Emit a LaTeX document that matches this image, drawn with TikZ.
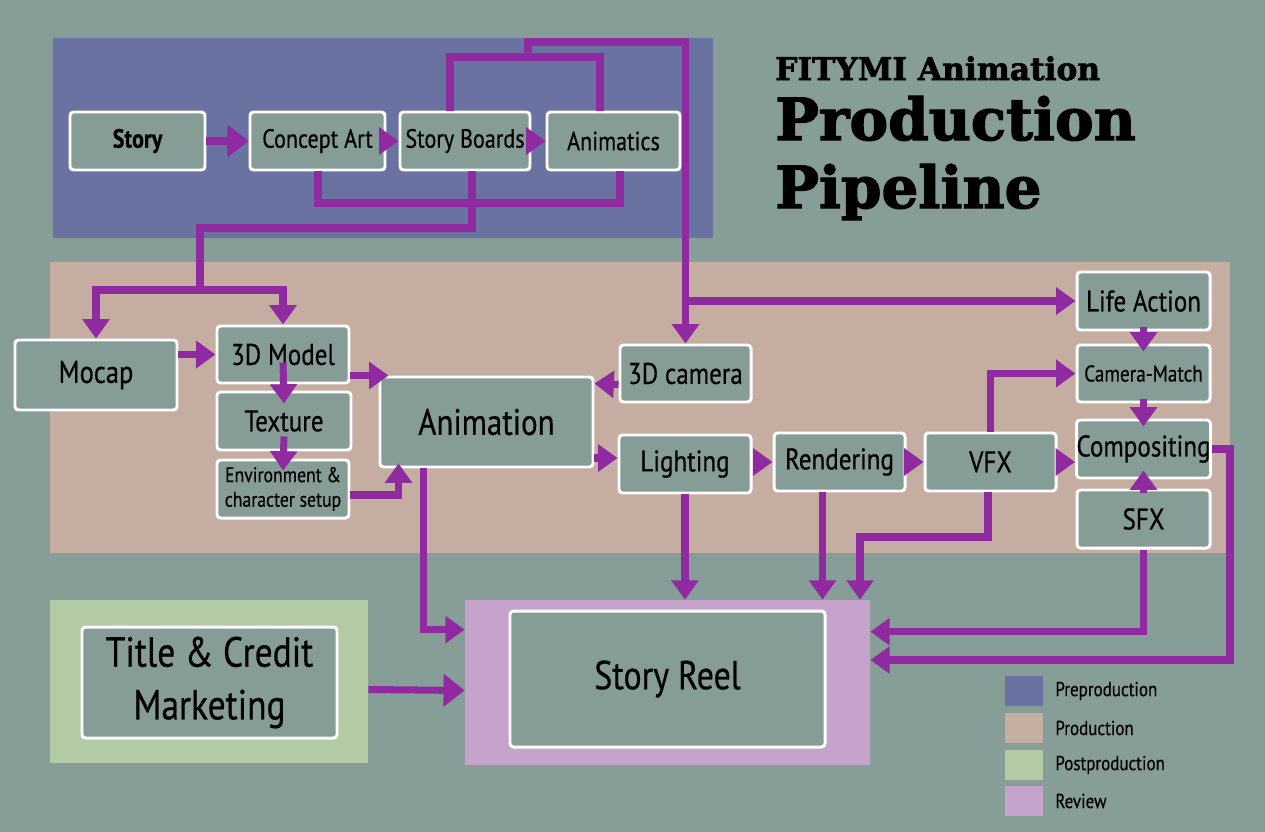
\documentclass[tikz,border=0pt]{standalone}
\usepackage{fontspec}
\setmainfont{PT Sans}[FakeStretch=0.84, FakeBold=0.5]
\newfontfamily\titlefont{DejaVu Serif}[BoldFeatures={FakeBold=2.2}]
\usetikzlibrary{arrows.meta,calc}
\definecolor{bgc}{RGB}{135,157,151}
\definecolor{prec}{RGB}{106,114,162}
\definecolor{prodc}{RGB}{197,173,161}
\definecolor{postc}{RGB}{179,203,164}
\definecolor{revc}{RGB}{198,163,203}
\definecolor{boxc}{RGB}{134,157,151}
\definecolor{pline}{RGB}{144,42,160}
\begin{document}
\begin{tikzpicture}[x=0.02cm,y=-0.02cm,
  sz/.style 2 args={minimum width=#1*0.02cm, minimum height=#2*0.02cm},
  region/.style={inner sep=0pt, draw=none},
  box/.style={draw=white, line width=1.7pt, fill=boxc, rounded corners=2pt,
    align=center, inner sep=0pt, text=black, font=\fontsize{17}{19}\selectfont},
  flow/.style={draw=pline, line width=4pt},
  arr/.style={flow, -{Triangle[width=15pt,length=11pt]}},
  bigarr/.style={flow, -{Triangle[width=18pt,length=12pt]}},
  lgbox/.style={region, sz={38}{30}},
  lgtext/.style={anchor=west, inner sep=0pt, text=black, font=\fontsize{11.5}{13}\selectfont}]

% canvas
\fill[bgc] (0,0) rectangle (1265,832);
\useasboundingbox (0,0) rectangle (1265,832);

% stage areas
\node[region, fill=prec, sz={660}{200}]  (pre)    at (383,138) {};
\node[region, fill=prodc, sz={1180}{291}] (prod)  at (640,407.5) {};
\node[region, fill=postc, sz={318}{163}] (post)   at (209,681.5) {};
\node[region, fill=revc, sz={405}{165}]  (review) at (667.5,682.5) {};

% title
\node[anchor=base west, inner sep=0pt, font=\titlefont\bfseries\fontsize{17.8}{19}\selectfont] (t1) at (775,80) {FITYMI Animation};
\node[anchor=base west, inner sep=0pt, font=\titlefont\bfseries\fontsize{33}{35}\selectfont] (t2) at (775,140) {Production};
\node[anchor=base west, inner sep=0pt, font=\titlefont\bfseries\fontsize{33}{35}\selectfont] (t3) at (775,208) {Pipeline};

% preproduction boxes
\node[box, sz={135}{58}, font=\bfseries\fontsize{15}{17}\selectfont] (story) at (137.5,141) {Story};
\node[box, sz={135}{58}, font=\fontsize{15}{17}\selectfont] (concept)   at (317.5,141) {Concept Art};
\node[box, sz={130}{58}, font=\fontsize{15}{17}\selectfont] (boards)    at (465,141)   {Story Boards};
\node[box, sz={133}{58}, font=\fontsize{15}{17}\selectfont] (animatics) at (613.5,141) {Animatics};

% production boxes
\node[box, sz={162}{70}, font=\fontsize{18}{20}\selectfont] (mocap) at (96,375) {Mocap};
\node[box, sz={132}{57}] (model)   at (283,354.5) {3D Model};
\node[box, sz={134}{58}] (texture) at (284,421) {Texture};
\node[box, sz={132}{58}, font=\fontsize{12}{14}\selectfont] (env) at (283,489) {Environment \&\\character setup};
\node[box, sz={213}{90}, font=\fontsize{21}{23}\selectfont] (anim) at (486.5,422) {Animation};
\node[box, sz={131}{57}] (camera)    at (685.5,373.5) {3D camera};
\node[box, sz={132}{58}] (lighting)  at (685,464)     {Lighting};
\node[box, sz={131}{58}] (rendering) at (839.5,462)   {Rendering};
\node[box, sz={131}{58}] (vfx)       at (990.5,462)   {VFX};
\node[box, sz={133}{58}] (life)      at (1143.5,301)  {Life Action};
\node[box, sz={133}{57}, font=\fontsize{13}{15}\selectfont] (match) at (1143.5,373.5) {Camera-Match};
\node[box, sz={133}{58}] (comp)      at (1143.5,449)  {Compositing};
\node[box, sz={133}{58}] (sfx)       at (1143.5,519)  {SFX};

% post and review boxes
\node[box, sz={255}{111}, font=\fontsize{24}{30}\selectfont] (credit) at (209.5,682.5) {Title \& Credit\\Marketing};
\node[box, sz={315}{136}, font=\fontsize{23}{25}\selectfont] (reel) at (667.5,679) {Story Reel};

% preproduction flow
\draw[bigarr] (story.east) -- (concept.west);
\draw[arr] ($(concept.east)+(-6,0)$) -- (boards.west);
\draw[arr] ($(boards.east)+(-4,0)$) -- (animatics.west);
\coordinate (la) at (450,57);
\coordinate (lb) at (600,57);
\draw[flow] (boards.north -| la) -- (la) -- (lb) -- (animatics.north -| lb);
\coordinate (ta) at (528,42);
\coordinate (tb) at (camera.north |- ta);
\draw[arr] (ta |- la) -- (ta) -- (tb) -- (camera.north);
\draw[arr] (tb |- life.west) -- (life.west);
\coordinate (ba) at (318,203);
\coordinate (bb) at (620,203);
\draw[flow] (concept.south -| ba) -- (ba) -- (bb) -- (animatics.south -| bb);
\coordinate (da) at (472,228);
\coordinate (db) at (200,228);
\coordinate (dc) at (200,290);
\draw[flow] (boards.south -| da) -- (da) -- (db) -- (dc);
\draw[arr] (dc) -| (mocap.north);
\draw[arr] (dc) -| (model.north);

% production flow
\draw[arr] (mocap.east |- model.west) -- (model.west);
\draw[arr] ($(model.south)+(0,-22)$) -- ($(texture.north)+(0,13)$);
\draw[arr] ($(texture.south)+(0,-15)$) -- ($(env.north)+(0,12)$);
\draw[arr] (model.east |- anim.north) -- ($(anim.north west)+(10,0)$);
\draw[arr] ($(env.east)+(0,6)$) -| ($(anim.south west)+(20,-5)$);
\draw[arr] ($(camera.west)+(0,11)$) -- ($(anim.north east)+(0,8)$);
\draw[arr] ($(anim.east)+(0,36)$) -- ($(lighting.west)+(0,-6)$);
\draw[arr] (lighting.east |- rendering.west) -- (rendering.west);
\draw[arr] (rendering.east) -- (vfx.west);
\draw[arr] (vfx.east) -- (comp.west |- vfx.east);
\draw[arr] (vfx.north) |- (match.west);
\draw[arr] ($(life.south)+(0,-4)$) -- ($(match.north)+(0,8)$);
\draw[arr] ($(match.south)+(0,-4)$) -- ($(comp.north)+(0,8)$);
\draw[arr] ($(sfx.north)+(0,4)$) -- ($(comp.south)+(0,-9)$);

% into review
\draw[arr] ($(anim.south west)+(45,0)$) |- ($(review.north west)+(0,30)$);
\draw[arr] (lighting.south) -- (lighting.south |- review.north);
\coordinate (ra) at ($(rendering.south)+(-17,0)$);
\draw[arr] (ra) -- (ra |- review.north);
\coordinate (va) at (988,537);
\coordinate (vb) at (860,537);
\draw[arr] (vfx.south -| va) -- (va) -- (vb) -- (vb |- review.north);
\draw[arr] (sfx.south) |- ($(review.north east)+(0,32)$);
\coordinate (ca) at (1230,660);
\draw[arr] (comp.east) -| (ca) -- (review.east |- ca);
\draw[bigarr] ($(post.east)+(0,8)$) -- ($(review.west)+(0,8)$);

% legend
\node[lgbox, fill=prec]  (lg1) at (1024,691) {};
\node[lgbox, fill=prodc] (lg2) at (1024,728) {};
\node[lgbox, fill=postc] (lg3) at (1024,765) {};
\node[lgbox, fill=revc]  (lg4) at (1024,801) {};
\node[lgtext] (lt1) at (1055,691) {Preproduction};
\node[lgtext] (lt2) at (1055,728) {Production};
\node[lgtext] (lt3) at (1055,765) {Postproduction};
\node[lgtext] (lt4) at (1055,801) {Review};
\end{tikzpicture}
\end{document}
